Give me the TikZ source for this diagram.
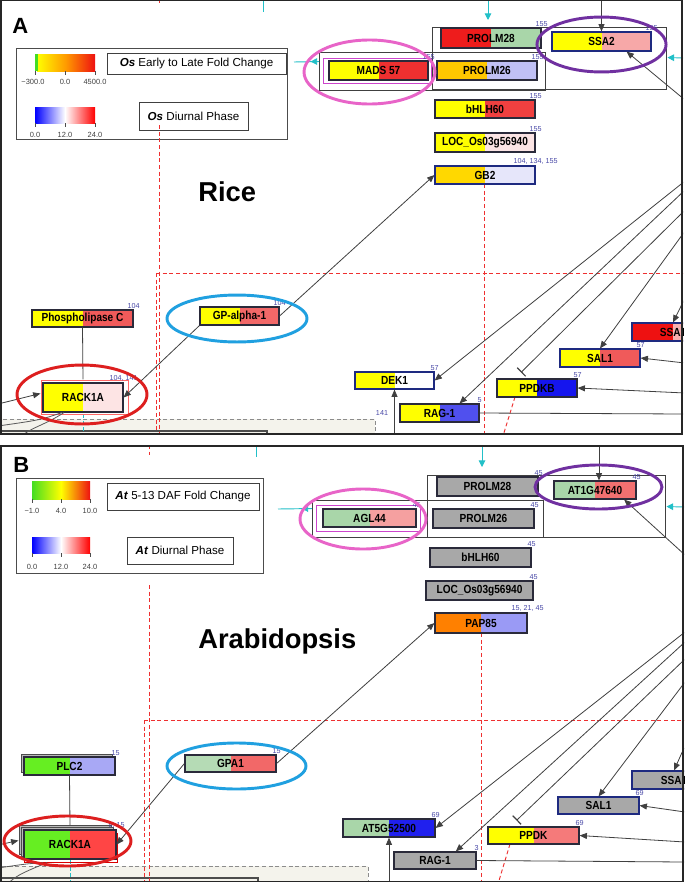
\documentclass[tikz,border=0pt]{standalone}
\usepackage{fontspec}
\setmainfont{Liberation Sans}
\newfontfamily\gfont[FakeStretch=0.86]{Liberation Sans}
\usetikzlibrary{arrows.meta,calc}
\definecolor{gbord}{HTML}{2A2A3A}
\definecolor{navy}{HTML}{1E2A80}
\definecolor{yel}{HTML}{FFFF00}
\definecolor{gold}{HTML}{FFD800}
\definecolor{amber}{HTML}{FFC800}
\definecolor{redA}{HTML}{EE1C1C}
\definecolor{pgreen}{HTML}{A9D6A9}
\definecolor{pgreen2}{HTML}{B5DBB5}
\definecolor{ppink}{HTML}{F7A8A8}
\definecolor{red2}{HTML}{EE3030}
\definecolor{red3}{HTML}{F04040}
\definecolor{red4}{HTML}{FF4545}
\definecolor{lav}{HTML}{C0C0F5}
\definecolor{lav2}{HTML}{E6E6FA}
\definecolor{lav3}{HTML}{9A9AF5}
\definecolor{lav4}{HTML}{A8A8F5}
\definecolor{blush}{HTML}{FBE4E4}
\definecolor{blush2}{HTML}{FDE4E4}
\definecolor{sal}{HTML}{F05A5A}
\definecolor{sal2}{HTML}{F26868}
\definecolor{sal3}{HTML}{F27070}
\definecolor{sal4}{HTML}{F57A7A}
\definecolor{pink2}{HTML}{F5A0A0}
\definecolor{blu1}{HTML}{5050EE}
\definecolor{blu2}{HTML}{1515EE}
\definecolor{blu3}{HTML}{2020EE}
\definecolor{gry}{HTML}{A8A8A8}
\definecolor{orng}{HTML}{FF8000}
\definecolor{lime}{HTML}{66EE22}
\definecolor{ssared}{HTML}{EE1111}
\definecolor{ssapink}{HTML}{F7B0B0}
\definecolor{numblue}{HTML}{4A4AA8}
\definecolor{cyanc}{HTML}{22C0C8}
\definecolor{dashred}{HTML}{EE3030}
\definecolor{beige}{HTML}{F4F3EC}
\definecolor{ellpinkc}{HTML}{E864C8}
\definecolor{ellpurc}{HTML}{7030A0}
\definecolor{ellbluc}{HTML}{20A0E0}
\definecolor{ellredc}{HTML}{DD1F1F}
\definecolor{magc}{HTML}{CC44CC}
\definecolor{legred}{HTML}{EE1111}
\definecolor{leggreen}{HTML}{44DD22}
\definecolor{legorange}{HTML}{FF9900}
\tikzset{
  gene/.style 2 args={rectangle, draw=gbord, line width=0.85pt, inner sep=0pt, text=black,
    font=\gfont\bfseries\fontsize{8.8}{8.8}\selectfont,
    path picture={\fill[#1] (path picture bounding box.south west) rectangle (path picture bounding box.north);
                  \fill[#2] (path picture bounding box.south) rectangle (path picture bounding box.north east);}},
  sz/.style 2 args={minimum width=#1*0.75pt, minimum height=#2*0.75pt},
  numlab/.style={anchor=south, inner sep=0.6pt, text=numblue, font=\fontsize{5.4}{5.4}\selectfont},
  numl/.style={label={[numlab]north east:#1}},
  grp/.style={rectangle, draw=black!75, line width=0.7pt, inner sep=0pt},
  lnk/.style={draw=black!75, line width=0.6pt},
  arr/.style={lnk, -{Triangle[length=5.5pt,width=4.5pt]}},
  inh/.style={lnk, -{Bar[width=9pt,line width=0.9pt]}},
  cyanline/.style={draw=cyanc, line width=0.7pt},
  cyanarr/.style={cyanline, -{Triangle[length=5pt,width=5pt]}},
  cyandash/.style={cyanline, dash pattern=on 3pt off 2pt},
  reddash/.style={draw=dashred, line width=0.7pt, dash pattern=on 3pt off 2pt},
  graydash/.style={draw=black!45, line width=0.6pt, dash pattern=on 3pt off 2pt},
  curvelnk/.style={draw=black!65, line width=0.6pt},
  ellmark/.style={line width=2.2pt},
  magframe/.style={draw=magc, line width=0.7pt},
  rackframe/.style={draw=red!60, line width=0.6pt},
  shadowbox/.style={draw=black!70, fill=gray!55, line width=0.6pt},
  legbox/.style={rectangle, draw=black!70, line width=0.6pt, fill=white, inner sep=0pt},
  legtxt/.style={rectangle, draw=black!75, line width=0.6pt, fill=white, inner sep=0pt, font=\fontsize{8.7}{8.7}\selectfont},
  tickmark/.style={draw=black!70, line width=0.5pt},
  ticklab/.style={inner sep=0pt, text=black!75, font=\fontsize{5.6}{5.6}\selectfont},
  bigtxt/.style={inner sep=0pt, anchor=base west, font=\bfseries\fontsize{20.5}{20.5}\selectfont},
  paneltxt/.style={inner sep=0pt, anchor=base west, font=\bfseries\fontsize{16.5}{16.5}\selectfont},
  panelframe/.style={draw=black!85, line width=1.2pt}
}
\newcommand\genenode[9]{\node[gene={#5}{#6}, sz={#3}{#4}, numl={#8}, #9] (#1) at (#2) {#7};}
\begin{document}
\begin{tikzpicture}[x=0.75pt,y=-0.75pt]
\useasboundingbox (0,0) rectangle (685,882);
\fill[white] (0,0) rectangle (685,882);

%================ PANEL A ================
\begin{scope}
\clip (0,0) rectangle (683,434);
\draw[graydash, fill=beige] (-2,419) rectangle (375,440);
\draw[black!70, line width=0.8pt] (-2,431) -- (267,431) -- (267,440);
\draw[reddash] (156,273) -- (156,436);
\draw[reddash] (156,273) -- (685,273);
\draw[reddash] (484,184) -- (484,436);
\draw[reddash] (515,397) -- (503,436);
\draw[reddash] (159,-1) -- (159,4);
\draw[cyandash] (83,414) -- (83,436);

\node[grp, sz={234}{62}] (grpA1) at (549,58) {};
\node[grp, sz={226}{38}] (grpA2) at (432,71) {};
\draw[magframe] (323,58) rectangle (431,83);
\draw[rackframe] (41,380) rectangle (128,414);

\genenode{prolm28A}{491,38}{100}{20}{redA}{pgreen}{PROLM28}{155}{}
\genenode{ssa2}{601.5,41.5}{99}{19}{yel}{ppink}{SSA2}{155}{draw=navy}
\genenode{mads}{378.5,70.5}{99}{19}{yel}{red2}{MADS 57}{155}{}
\genenode{prolm26A}{487,70.5}{100}{19}{amber}{lav}{PROLM26}{155}{}
\genenode{bhlhA}{485,109}{100}{18}{yel}{red3}{bHLH60}{155}{}
\genenode{locA}{485,142.5}{100}{19}{yel}{blush}{LOC\_Os03g56940}{155}{}
\genenode{gb2}{485,175}{100}{18}{gold}{lav2}{GB2}{104, 134, 155}{draw=navy}
\genenode{plcA}{82.5,318.5}{101}{17}{yel}{sal}{Phospholipase C}{104}{}
\genenode{rackA}{83,397.5}{80}{29}{yel}{blush2}{RACK1A}{104, 141}{}
\genenode{gpaA}{239.5,316}{79}{18}{yel}{sal2}{GP-alpha-1}{104}{}
\genenode{dek1}{394.5,380.5}{79}{17}{yel}{white}{DEK1}{57}{draw=navy}
\genenode{ragA}{439.5,413}{79}{18}{yel}{blu1}{RAG-1}{5}{}
\genenode{ppdkb}{537,388}{80}{18}{yel}{blu2}{PPDKB}{57}{}
\genenode{salA}{600,358}{80}{18}{yel}{sal}{SAL1}{57}{draw=navy}
\genenode{ssaA}{673,332}{82}{18}{ssared}{ssapink}{SSA1}{}{draw=navy}

\node[inner sep=0pt, text=numblue, font=\fontsize{5.4}{5.4}\selectfont, anchor=south] (n141) at (382,416) {141};

\coordinate (aT1) at (601.5,-2);
\coordinate (aR1) at (685,100);
\coordinate (aR2) at (685,181);
\coordinate (aR3) at (685,190);
\coordinate (aR4) at (685,210);
\coordinate (aR5) at (685,231);
\coordinate (aR6) at (684,300);
\coordinate (aR7) at (685,363);
\coordinate (aR8) at (685,393);
\coordinate (aR9) at (685,414);
\coordinate (aB1) at (394.5,436);
\coordinate (aL1) at (-2,404);

\draw[arr] (aT1) -- (ssa2.north);
\draw[arr] (aR1) -- ($(ssa2.south)!0.5!(ssa2.south east)$);
\draw[arr] (gpaA.east) -- (gb2.west);
\draw[arr] (gpaA.south west) -- (rackA.east);
\draw[lnk] (plcA.south) -- ($(rackA.north)+(0,-3)$);
\draw[arr] (aL1) -- ($(rackA.west)+(-2,-4)$);
\draw[arr] (aR2) -- (dek1.east);
\draw[arr] (aR3) -- ($(ragA.north)!0.5!(ragA.north east)$);
\draw[inh] (aR4) -- ($(ppdkb.north)+(-16,-6)$);
\draw[arr] (aR5) -- (salA.north);
\draw[arr] (aR6) -- (ssaA.north);
\draw[arr] (aR7) -- (salA.east);
\draw[arr] (aR8) -- (ppdkb.east);
\draw[lnk] (ragA.east) -- (aR9);
\draw[arr] (aB1) -- (dek1.south);
\draw[curvelnk] ($(rackA.south)+(-21,0)$) .. controls (40,420) .. (-2,426);
\draw[curvelnk] ($(rackA.south)+(-19,0)$) .. controls (45,425) and (30,428) .. (22,436);

\coordinate (aC1) at (488,-2);
\coordinate (aC1e) at (488,20);
\coordinate (aC2) at (294,62);
\coordinate (aC3) at (684,58);
\coordinate (aC4) at (263,-2);
\coordinate (aC4e) at (263,12);
\draw[cyanarr] (aC1) -- (aC1e);
\draw[cyanline] (aC4) -- (aC4e);
\draw[cyanline] (aC2) -- ($(grpA2.north west)+(0,10)$);
\draw[cyanarr] ($(grpA2.north west)+(0,10)$) -- ++(-8,0);
\draw[cyanarr] (aC3) -- ($(grpA1.north east)+(1,31)$);

\draw[ellmark, ellpinkc] (369.5,72) ellipse [x radius=49.1pt, y radius=24pt];
\draw[ellmark, ellpurc] (601.5,44.5) ellipse [x radius=48.4pt, y radius=20.6pt];
\draw[ellmark, ellredc] (82,394.5) ellipse [x radius=48.75pt, y radius=22.1pt];
\draw[ellmark, ellbluc] (237,318.5) ellipse [x radius=52.5pt, y radius=17.6pt];

\node[legbox, sz={271}{91}] (legA) at (151.5,93.5) {};
\shade[left color=yel, right color=legred, middle color=legorange] (37,54) rectangle (95,71);
\fill[leggreen] (35,54) rectangle (37.5,71);
\shade[left color=blue, right color=red, middle color=white] (35,107) rectangle (95,123);
\foreach \tx in {35,65,95} {\draw[tickmark] (\tx,71) -- (\tx,75); \draw[tickmark] (\tx,123) -- (\tx,127);}
\node[ticklab] (tA1) at (33,82) {−300.0};
\node[ticklab] (tA2) at (65,82) {0.0};
\node[ticklab] (tA3) at (95,82) {4500.0};
\node[ticklab] (tA4) at (35,135) {0.0};
\node[ticklab] (tA5) at (65,135) {12.0};
\node[ticklab] (tA6) at (95,135) {24.0};
\node[legtxt, sz={179}{21}] (lbA1) at (196.5,63.5) {\textbf{\textit{Os}} Early to Late Fold Change};
\node[legtxt, sz={109}{28}] (lbA2) at (193.5,116) {\textbf{\textit{Os}} Diurnal Phase};
\draw[reddash] (159,125) -- (159,436);

\node[paneltxt] (labA) at (12,33) {A};
\node[bigtxt] (rice) at (198,201) {Rice};
\end{scope}

%================ PANEL B ================
\begin{scope}
\clip (0,446) rectangle (684,882);
\draw[graydash, fill=beige] (-2,866) rectangle (368,890);
\draw[black!70, line width=0.8pt] (-2,878) -- (258,878) -- (258,890);
\draw[reddash] (144,720) -- (144,884);
\draw[reddash] (144,720) -- (686,720);
\draw[reddash] (481,633) -- (481,884);
\draw[reddash] (510,844) -- (498,884);
\draw[reddash] (149,445) -- (149,455);
\draw[cyandash] (70,860) -- (70,884);

\node[grp, sz={238}{62}] (grpB1) at (546,506) {};
\node[grp, sz={231}{37}] (grpB2) at (427.5,518.5) {};
\draw[magframe] (316,505) rectangle (420,531);

\draw[shadowbox] (21,754) rectangle (112,772);
\draw[shadowbox] (19,825) rectangle (111,854);
\draw[shadowbox] (21.5,827.5) rectangle (113.5,856.5);
\draw[red!85!black, line width=0.6pt] (24,833) rectangle (117,862);

\genenode{prolm28B}{487.5,486.5}{101}{19}{gry}{gry}{PROLM28}{45}{}
\genenode{at1g}{595,490}{82}{18}{pgreen}{sal3}{AT1G47640}{45}{}
\genenode{agl44}{369.5,518}{93}{18}{pgreen}{pink2}{AGL44}{45}{}
\genenode{prolm26B}{483.5,518.5}{101}{19}{gry}{gry}{PROLM26}{45}{}
\genenode{bhlhB}{480.5,557.5}{101}{19}{gry}{gry}{bHLH60}{45}{}
\genenode{locB}{479.5,590.5}{107}{19}{gry}{gry}{LOC\_Os03g56940}{45}{}
\genenode{pap85}{481,623}{92}{20}{orng}{lav3}{PAP85}{15, 21, 45}{}
\genenode{plc2}{69.5,766}{91}{18}{lime}{lav4}{PLC2}{15}{}
\genenode{rackB}{70,844.5}{92}{29}{lime}{red4}{RACK1A}{5, 15}{}
\genenode{gpa1}{230.5,763.5}{91}{17}{pgreen2}{sal2}{GPA1}{15}{}
\genenode{at5g}{389,828}{92}{18}{pgreen}{blu3}{AT5G52500}{69}{}
\genenode{ppdk}{533.5,835.5}{91}{17}{yel}{sal4}{PPDK}{69}{}
\genenode{salB}{598.5,805.5}{81}{17}{gry}{gry}{SAL1}{69}{draw=navy}
\genenode{ragB}{435,860.5}{82}{17}{gry}{gry}{RAG-1}{3}{}
\genenode{ssaB}{674,780}{84}{18}{gry}{gry}{SSA1}{}{draw=navy}

\coordinate (bT1) at (599,444);
\coordinate (bR1) at (685,555);
\coordinate (bR2) at (685,632);
\coordinate (bR3) at (685,642);
\coordinate (bR4) at (685,659);
\coordinate (bR5) at (685,682);
\coordinate (bR6) at (684,748);
\coordinate (bR7) at (685,812);
\coordinate (bR8) at (685,842);
\coordinate (bR9) at (685,862);
\coordinate (bB1) at (389,884);
\coordinate (bL1) at (-2,845);

\draw[arr] (bT1) -- ($(at1g.north)+(4,0)$);
\draw[arr] (bR1) -- ($(at1g.south)!0.7!(at1g.south east)$);
\draw[arr] (gpa1.east) -- (pap85.west);
\draw[arr] (gpa1.west) -- (rackB.east);
\draw[lnk] (plc2.south) -- ($(rackB.north)+(0,-4)$);
\draw[arr] (bL1) -- ($(rackB.west)+(-5,-4)$);
\draw[arr] (bR2) -- (at5g.east);
\draw[arr] (bR3) -- ($(ragB.north)!0.5!(ragB.north east)$);
\draw[inh] (bR4) -- ($(ppdk.north)+(-17,-6)$);
\draw[arr] (bR5) -- (salB.north);
\draw[arr] (bR6) -- (ssaB.north);
\draw[arr] (bR7) -- (salB.east);
\draw[arr] (bR8) -- (ppdk.east);
\draw[lnk] (ragB.east) -- (bR9);
\draw[arr] (bB1) -- (at5g.south);
\draw[curvelnk] ($(rackB.south)+(-27,3)$) .. controls (25,864) .. (-2,868);
\draw[curvelnk] ($(rackB.south)+(-23,3)$) .. controls (30,870) and (15,875) .. (8,884);

\coordinate (bC1) at (482,444);
\coordinate (bC1e) at (482,467);
\coordinate (bC2) at (278,509);
\coordinate (bC3) at (684,507);
\coordinate (bC4) at (256,444);
\coordinate (bC4e) at (256,457);
\draw[cyanarr] (bC1) -- (bC1e);
\draw[cyanline] (bC4) -- (bC4e);
\draw[cyanline] (bC2) -- ($(grpB2.north west)+(0,9)$);
\draw[cyanarr] ($(grpB2.north west)+(0,9)$) -- ++(-10,0);
\draw[cyanarr] (bC3) -- ($(grpB1.north east)+(1,32)$);

\draw[ellmark, ellpinkc] (363,519) ellipse [x radius=47.25pt, y radius=22.5pt];
\draw[ellmark, ellpurc] (598.5,487) ellipse [x radius=47.6pt, y radius=16.5pt];
\draw[ellmark, ellbluc] (236.5,766) ellipse [x radius=52.1pt, y radius=17.25pt];
\draw[ellmark, ellredc] (67.5,841) ellipse [x radius=47.6pt, y radius=18.75pt];

\node[legbox, sz={247}{95}] (legB) at (139.5,525.5) {};
\shade[left color=leggreen, right color=legred, middle color=yel] (32,481) rectangle (90,499);
\shade[left color=blue, right color=red, middle color=white] (32,537) rectangle (90,553);
\foreach \tx in {32,61,90} {\draw[tickmark] (\tx,499) -- (\tx,503); \draw[tickmark] (\tx,553) -- (\tx,557);}
\node[ticklab] (tB1) at (32,511) {−1.0};
\node[ticklab] (tB2) at (61,511) {4.0};
\node[ticklab] (tB3) at (90,511) {10.0};
\node[ticklab] (tB4) at (32,567) {0.0};
\node[ticklab] (tB5) at (61,567) {12.0};
\node[ticklab] (tB6) at (90,567) {24.0};
\node[legtxt, sz={152}{27}] (lbB1) at (183,496.5) {\textbf{\textit{At}} 5-13 DAF Fold Change};
\node[legtxt, sz={106}{27}] (lbB2) at (180,550.5) {\textbf{\textit{At}} Diurnal Phase};
\draw[reddash] (149,585) -- (149,884);

\node[paneltxt] (labB) at (13,472) {B};
\node[bigtxt] (arab) at (198,648) {Arabidopsis};
\end{scope}

\draw[panelframe] (1,0.6) rectangle (682,434);
\draw[panelframe] (1,446) rectangle (683,881.4);
\end{tikzpicture}
\end{document}
